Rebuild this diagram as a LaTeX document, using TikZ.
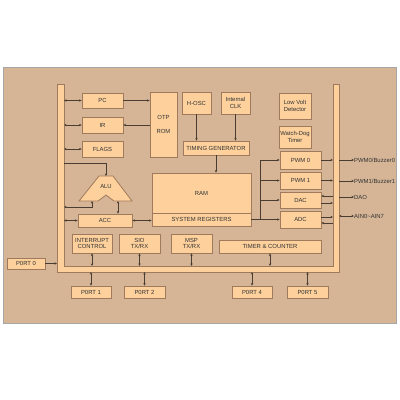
\documentclass[tikz,border=0pt]{standalone}
\usepackage{fontspec}
\setmainfont{Liberation Sans}
\usetikzlibrary{arrows.meta}
\definecolor{panel}{HTML}{D5B596}
\definecolor{boxfill}{HTML}{FDD09C}
\definecolor{boxdraw}{HTML}{A07A5C}
\definecolor{wire}{HTML}{4A3C30}
\definecolor{txt}{HTML}{333333}
\tikzset{
  blk/.style={draw=boxdraw, fill=boxfill, line width=0.8pt, inner sep=0pt, align=center,
    font=\fontsize{5.9}{6.8}\selectfont, text=txt},
  wr/.style={draw=wire, line width=0.5pt},
  tip/.style={wr, arrows={-Stealth[length=2.6pt,width=2.4pt]}},
  bitip/.style={wr, arrows={Stealth[length=2.6pt,width=2.4pt]-Stealth[length=2.6pt,width=2.4pt]}},
  rtip/.style={wr, arrows={Stealth[length=2.6pt,width=2.4pt]-}},
  lbl/.style={font=\fontsize{5.9}{6.8}\selectfont, text=txt, inner sep=0pt, anchor=west}
}
\begin{document}
\begin{tikzpicture}[x=1pt,y=-1pt]
\useasboundingbox (0,0) rectangle (400,400);
\fill[white] (0,0) rectangle (400,400);
\draw[fill=panel, draw=gray!70, line width=0.6pt] (3,67) rectangle (396,323);
% bus
\draw[fill=boxfill, draw=boxdraw, line width=0.8pt]
  (57,84) -- (57,272) -- (339,272) -- (339,84) -- (333,84) -- (333,266) -- (64,266) -- (64,84) -- cycle;
\coordinate (bLin) at (64,100);
\coordinate (bLout) at (57,100);
\coordinate (bRin) at (333,100);
\coordinate (bRout) at (339,100);
\coordinate (bBin) at (100,266);
\coordinate (bBout) at (100,272);
% blocks
\node[blk, minimum width=41pt, minimum height=15pt] (PC) at (102.5,100.5) {PC};
\node[blk, minimum width=41pt, minimum height=16pt] (IR) at (102.5,125) {IR};
\node[blk, minimum width=41pt, minimum height=16pt] (FL) at (102.5,149) {FLAGS};
\node[blk, minimum width=27pt, minimum height=65pt] (OTP) at (163.5,124.5) {OTP\\[7pt]ROM};
\node[blk, minimum width=29pt, minimum height=22pt] (HOSC) at (196.5,103) {H-OSC};
\node[blk, minimum width=29pt, minimum height=22pt] (CLK) at (235.5,103) {Internal\\CLK};
\node[blk, minimum width=66pt, minimum height=14pt] (TG) at (216,148) {TIMING GENERATOR};
\node[blk, minimum width=32pt, minimum height=26pt] (LVD) at (295,106) {Low Volt\\Detector};
\node[blk, minimum width=32pt, minimum height=22pt] (WDT) at (295,137) {Watch-Dog\\Timer};
\node[blk, minimum width=41pt, minimum height=18pt] (PWM0) at (300.5,160) {PWM 0};
\node[blk, minimum width=41pt, minimum height=17pt] (PWM1) at (300.5,180.5) {PWM 1};
\node[blk, minimum width=41pt, minimum height=16pt] (DAC) at (300.5,200) {DAC};
\node[blk, minimum width=41pt, minimum height=17pt] (ADC) at (300.5,219.5) {ADC};
\node[blk, minimum width=99pt, minimum height=40pt] (RAM) at (201.5,193) {RAM};
\node[blk, minimum width=99pt, minimum height=13pt] (SR) at (201.5,219.5) {SYSTEM REGISTERS};
\node[blk, minimum width=54pt, minimum height=13pt] (ACC) at (105,220.5) {ACC};
\node[blk, minimum width=40pt, minimum height=19pt] (INT) at (92,243.5) {INTERRUPT\\CONTROL};
\node[blk, minimum width=41pt, minimum height=19pt] (SIO) at (139.5,243.5) {SIO\\TX/RX};
\node[blk, minimum width=41pt, minimum height=19pt] (MSP) at (191.5,243.5) {MSP\\TX/RX};
\node[blk, minimum width=102pt, minimum height=13pt] (TMR) at (270,246.5) {TIMER \& COUNTER};
\node[blk, minimum width=38pt, minimum height=11pt] (P0) at (26,263.5) {P0RT 0};
\node[blk, minimum width=40pt, minimum height=12pt] (P1) at (91,292) {P0RT 1};
\node[blk, minimum width=41pt, minimum height=12pt] (P2) at (144.5,292) {P0RT 2};
\node[blk, minimum width=40pt, minimum height=12pt] (P4) at (252,292) {P0RT 4};
\node[blk, minimum width=41pt, minimum height=12pt] (P5) at (307.5,292) {P0RT 5};
% ALU
\draw[fill=boxfill, draw=boxdraw, line width=0.8pt]
  (99,176) -- (113,176) -- (132,201) -- (114,201) -- (106,195) -- (98,201) -- (79,201) -- cycle;
\node[blk, draw=none, fill=none] (ALU) at (106,186) {ALU};
\coordinate (aluT) at (106,176);
\coordinate (aluL) at (92,201);
\coordinate (aluR) at (118,201);
% left side connectors
\draw[bitip] (PC.west -| bLin) -- (PC.west);
\draw[bitip] (IR.west -| bLin) -- (IR.west);
\draw[bitip] (FL.west -| bLin) -- (FL.west);
\draw[tip] (PC.east) -- (PC.east -| OTP.west);
\draw[tip] (IR.east -| OTP.west) -- (IR.east);
\draw[tip] (HOSC.south) -- (HOSC.south |- TG.north);
\draw[tip] (CLK.south) -- (CLK.south |- TG.north);
\draw[tip] (TG.south) -- (TG.south |- RAM.north);
\draw[tip] (bLin |- 0,163) -| (aluT);
\draw[bitip] (aluL) |- (bLin |- 0,207);
\draw[bitip] (aluR) -- (aluR |- ACC.north);
\draw[bitip] (ACC.west -| bLin) -- (ACC.west);
\draw[bitip] (ACC.east) -- (ACC.east -| SR.west);
% right side
\coordinate (j) at (260,219.5);
\draw[tip] (SR.east) -- (ADC.west);
\draw[tip] (j) |- (PWM0.west);
\draw[tip] (j) |- (PWM1.west);
\draw[tip] (j) |- (DAC.west);
\draw[tip] (PWM0.east) -- (PWM0.east -| bRin);
\draw[tip] (PWM1.east) -- (PWM1.east -| bRin);
\draw[tip] ([yshift=-3pt]DAC.east) -- ([yshift=-3pt]DAC.east -| bRin);
\draw[rtip] ([yshift=4pt]DAC.east) -- ([yshift=4pt]DAC.east -| bRin);
\draw[rtip] ([yshift=-3.5pt]ADC.east) -- ([yshift=-3.5pt]ADC.east -| bRin);
\draw[tip] ([yshift=2.5pt]ADC.east) -- ([yshift=2.5pt]ADC.east -| bRin);
\node[lbl] (L0) at (354,160) {PWM0/Buzzer0};
\node[lbl] (L1) at (354,181) {PWM1/Buzzer1};
\node[lbl] (L2) at (354,197) {DAO};
\node[lbl] (L3) at (354,216) {AIN0\char`~AIN7};
\draw[tip] (L0.west -| bRout) -- (L0.west);
\draw[tip] (L1.west -| bRout) -- (L1.west);
\draw[tip] (L2.west -| bRout) -- (L2.west);
\draw[bitip] (L3.west -| bRout) -- (L3.west);
% bottom
\draw[bitip] (INT.south) -- (INT.south |- bBin);
\draw[bitip] (SIO.south) -- (SIO.south |- bBin);
\draw[bitip] (MSP.south) -- (MSP.south |- bBin);
\draw[bitip] (TMR.south) -- (TMR.south |- bBin);
\draw[bitip] (P1.north) -- (P1.north |- bBout);
\draw[bitip] (P2.north) -- (P2.north |- bBout);
\draw[bitip] (P4.north) -- (P4.north |- bBout);
\draw[bitip] (P5.north) -- (P5.north |- bBout);
\draw[tip] (P0.east) -- (P0.east -| bLout);
\end{tikzpicture}
\end{document}
